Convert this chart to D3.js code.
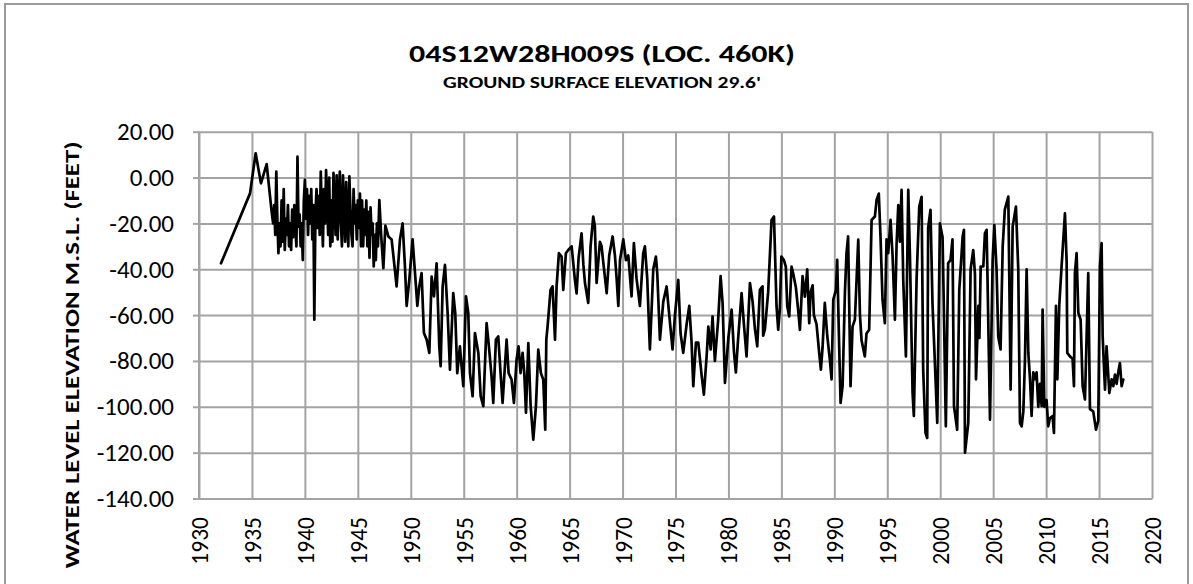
<!DOCTYPE html>
<html><head><meta charset="utf-8">
<script src="https://cdn.jsdelivr.net/npm/d3@7"></script>
<style>
body{margin:0;background:#fff}
svg{display:block}
text{font-family:Calibri,Carlito,Lato,"Open Sans",sans-serif;fill:#000}
</style>
</head><body>
<svg id="c" width="1193" height="584"></svg>
<script>
// ---- data ----
const titleText = "04S12W28H009S (LOC. 460K)";
const subtitleText = "GROUND SURFACE ELEVATION 29.6'";
const yTitleText = "WATER LEVEL ELEVATION M.S.L. (FEET)";
const yTicks = [20, 0, -20, -40, -60, -80, -100, -120, -140];
const xTicks = [1930,1935,1940,1945,1950,1955,1960,1965,1970,1975,1980,1985,1990,1995,2000,2005,2010,2015,2020];

const years = [
1932.08,1934.82,1935.35,1935.85,1936.39,1936.86,
1937.0,1937.1,1937.2,1937.3,1937.4,1937.5,1937.6,1937.7,1937.8,1937.9,
1938.0,1938.1,1938.2,1938.3,1938.4,1938.5,1938.6,1938.7,1938.8,1938.9,
1939.0,1939.1,1939.2,1939.3,1939.4,1939.5,1939.6,1939.7,1939.8,1939.9,
1940.0,1940.1,1940.2,1940.3,1940.4,1940.5,1940.6,1940.7,1940.8,1940.89,
1941.0,1941.1,1941.2,1941.3,1941.4,1941.5,1941.6,1941.7,1941.8,1941.9,
1942.0,1942.1,1942.2,1942.3,1942.4,1942.5,1942.6,1942.7,1942.8,1942.9,
1943.0,1943.1,1943.2,1943.3,1943.4,1943.5,1943.6,1943.7,1943.8,1943.9,
1944.0,1944.1,1944.2,1944.3,1944.4,1944.5,1944.6,1944.7,1944.8,1944.9,
1945.0,1945.1,1945.2,1945.3,1945.4,1945.5,1945.6,1945.7,1945.8,1945.9,
1946.0,1946.1,1946.2,1946.3,1946.4,1946.5,1946.6,1946.7,1946.8,1946.9,
1947.03,1947.2,1947.41,1947.6,1947.88,
1948.19,1948.5,1948.66,1948.98,1949.23,1949.45,1949.61,1949.86,1950.17,1950.4,
1950.62,1950.8,1951.02,1951.24,1951.5,1951.75,1951.97,1952.19,1952.44,1952.69,
1952.82,1953.01,1953.23,1953.48,1953.7,1954.01,1954.2,1954.39,1954.64,1954.96,
1955.21,1955.43,1955.59,1955.84,1956.06,1956.38,1956.6,1956.85,1957.16,1957.35,
1957.63,1957.79,1958.04,1958.26,1958.48,1958.67,1959.05,1959.24,1959.52,1959.74,
1959.99,1960.18,1960.37,1960.56,1960.72,1960.88,1961.1,1961.32,1961.57,1961.82,
1962.04,1962.29,1962.51,1962.7,1962.8,1962.92,1963.2,1963.39,1963.62,1963.77,
1963.99,1964.24,1964.4,1964.65,1964.87,1965.19,1965.5,1965.66,1965.85,1966.13,
1966.3,1966.45,1966.76,1966.98,1967.23,1967.38,1967.55,1967.86,1968.02,1968.18,
1968.5,1968.74,1969.06,1969.28,1969.44,1969.6,1969.76,1970.07,1970.32,1970.54,
1970.85,1971.07,1971.32,1971.64,1971.95,1972.11,1972.33,1972.58,1972.74,1972.9,
1973.15,1973.28,1973.53,1973.85,1974.16,1974.41,1974.72,1974.95,1975.26,1975.48,
1975.73,1976.05,1976.3,1976.52,1976.68,1976.93,1977.15,1977.46,1977.68,1977.94,
1978.1,1978.32,1978.5,1978.72,1979.03,1979.26,1979.45,1979.67,1979.99,1980.3,
1980.52,1980.7,1980.92,1981.24,1981.46,1981.71,1982.03,1982.28,1982.5,1982.72,
1982.97,1983.22,1983.28,1983.45,1983.75,1984.07,1984.3,1984.54,1984.7,1984.86,
1985.0,1985.24,1985.42,1985.55,1985.74,1985.96,1986.12,1986.37,1986.59,1986.75,
1987.0,1987.22,1987.44,1987.63,1987.76,1987.95,1988.07,1988.32,1988.57,1988.73,
1988.89,1989.1,1989.33,1989.58,1989.74,1989.9,1990.15,1990.27,1990.46,1990.59,
1990.78,1991.0,1991.15,1991.3,1991.53,1991.72,1991.94,1992.26,1992.42,1992.57,
1992.88,1993.04,1993.29,1993.52,1993.83,1993.99,1994.2,1994.36,1994.55,1994.77,
1994.93,1995.09,1995.31,1995.5,1995.72,1995.88,1996.04,1996.19,1996.35,1996.51,
1996.76,1996.98,1997.14,1997.39,1997.51,1997.77,1998.02,1998.24,1998.39,1998.61,
1998.77,1998.86,1999.08,1999.27,1999.49,1999.72,1999.97,2000.22,2000.34,2000.53,
2000.75,2000.97,2001.16,2001.3,2001.6,2001.8,2002.12,2002.24,2002.34,2002.65,
2002.87,2003.12,2003.28,2003.38,2003.6,2003.7,2003.82,2004.07,2004.22,2004.38,
2004.45,2004.7,2004.95,2005.11,2005.32,2005.48,2005.7,2005.9,2006.1,2006.43,
2006.65,2006.84,2007.15,2007.37,2007.53,2007.69,2007.85,2008.0,2008.16,2008.32,
2008.48,2008.63,2008.79,2008.95,2009.1,2009.26,2009.42,2009.58,2009.67,2009.83,
2010.04,2010.2,2010.36,2010.61,2010.74,2010.93,2011.06,2011.24,2011.46,2011.78,
2011.94,2012.0,2012.25,2012.5,2012.63,2012.72,2012.88,2013.04,2013.26,2013.45,
2013.67,2013.98,2014.14,2014.45,2014.71,2014.93,2015.08,2015.24,2015.34,2015.56,
2015.71,2015.97,2016.19,2016.35,2016.5,2016.66,2016.81,2016.97,2017.13,2017.29
];

const levels = [
-37.4,-6.9,10.6,-2.5,5.9,-14.9,
-20,-12,-25,2.6,-18,-33,-20,-30,-10,-28,
-5,-31.6,-18,-25,-12,-30,-20,-31.6,-14,-26,
-12,-22,-30,9.1,-21.4,-16,-30,-20,-36,-10,
-1,-18,-5,-25,-8,-20,-5,-27,-12,-62,
-15,-5,-22,-8,-25,2.6,-15,-30,-5,-20,
3.3,-10,-25,0,-30,-10,-28,2,-12,-25,
1,-27,-8,2.6,-20,-30,1,-15,-28,-2,
-18,-30,0.5,-14,-25,-30,-5,-20,-12,-27,
-10,-22,-7,-30,-10,-30,-14,-25,-10,-30,
-15,-35,-13,-25,-20,-38.8,-25,-36,-20,-30,
-9.8,-25,-39.5,-21,-25.7,
-27,-40.3,-47.5,-27,-20,-38.8,-56,-44.6,-27,-41.7,
-56,-47.5,-41.7,-67.8,-70.7,-76.5,-43.2,-51.8,-37.4,-73.6,
-82.3,-47.5,-38.1,-59.1,-83.8,-50.4,-59.1,-85.3,-73.6,-91,
-51.8,-59.1,-85.3,-95.4,-67.8,-76.5,-95.4,-99.7,-63.5,-72.2,
-86.7,-98.3,-70.7,-69.3,-85.3,-98.3,-70.7,-85.3,-88.1,-98.3,
-79.5,-73.6,-85.3,-76.5,-85.3,-102.6,-72.2,-99.7,-114.3,-99.7,
-75.1,-85.3,-88.1,-110,-70.7,-64.9,-49,-47.5,-70.7,-47.5,
-33,-34.5,-49,-33,-31.6,-30,-44.6,-50.5,-35,-24.3,
-38,-46,-54.7,-30,-17,-21,-46,-28,-30,-37,
-50.4,-34,-25.7,-34,-44,-56,-36,-27,-36,-34,
-51.8,-28.6,-44,-56,-33,-30,-44,-75,-58,-40,
-34.5,-42,-70.7,-54,-47.5,-60,-75,-60,-44.6,-68,
-76.5,-64,-56,-72,-91,-72,-72,-86,-94.7,-78,
-65,-75,-60.6,-80,-62,-43,-55,-89.6,-70,-57.6,
-76,-85,-70,-50.4,-64,-78,-46,-54,-66,-73.6,
-49,-47.5,-69,-66,-50,-18.5,-17,-56,-66.4,-57,
-34.5,-36,-39,-56,-60.6,-38.8,-42,-48,-58,-66.4,
-43,-52,-40,-63.5,-50,-47,-60,-64,-76.5,-83.8,
-74,-54.7,-69,-79.5,-88,-53.3,-49,-35.9,-74,-98.3,
-91,-50,-33,-25.7,-91,-65,-62,-27.1,-60,-71,
-78,-68,-66.4,-18.5,-17,-9.8,-7,-25.7,-53.3,-63.5,
-27,-33,-18.5,-34,-62,-29,-12,-28,-5.4,-45,
-78,-5.4,-34,-94,-104,-44,-12.7,-8.4,-83.8,-111.4,
-113.6,-22,-14.1,-55,-80,-107,-20,-26,-56,-108.5,
-37.3,-36,-27,-99.7,-110,-49,-25.7,-22.8,-120,-107,
-40,-31.6,-42,-88,-56,-70,-38.8,-38.8,-24.3,-22.8,
-40,-105.6,-35.9,-20.7,-40,-69.3,-75,-30,-14,-8.3,
-92.5,-21.4,-12.7,-40,-107,-108.5,-102,-80,-40,-76.5,
-88,-104,-85,-88,-85,-100,-90,-99.7,-57.6,-100,
-97,-108.5,-105,-104,-111.4,-56,-88,-56,-38.8,-15.6,
-37,-76.5,-78,-79,-91,-41.7,-33,-59,-62,-91,
-96.8,-41.7,-101,-102,-110,-106,-38.8,-28.6,-69.3,-92.5,
-73.6,-94,-88,-91,-86,-90,-85,-80.9,-91,-88.1
];

// ---- layout ----
const svg = d3.select("#c");
const L = 199, R = 1152, T = 131.7, B = 498.5;
const x = d3.scaleLinear().domain([1930, 2020]).range([L, R]);
const y = d3.scaleLinear().domain([-140, 20]).range([B, T]);
const gridColor = "#a3a3a3";
const tickFont = "Calibri,Carlito,Lato,sans-serif";

// outer chart border
svg.append("rect").attr("x", 5).attr("y", 4).attr("width", 1183).attr("height", 600)
  .attr("fill", "none").attr("stroke", "#9a9a9a").attr("stroke-width", 2);

// horizontal grid + y axis
const gy = svg.append("g").attr("transform", `translate(${L},0)`)
  .call(d3.axisLeft(y).tickValues(yTicks).tickSize(6).tickPadding(19).tickFormat(d => d.toFixed(2)));
gy.select(".domain").attr("stroke", gridColor).attr("stroke-width", 2).attr("d", `M0,${T}V${B}`);
gy.selectAll(".tick line").attr("stroke", gridColor).attr("stroke-width", 2);
gy.selectAll(".tick text").style("font-size", "25px").style("font-family", tickFont);
svg.append("g").attr("transform", `translate(${L},0)`)
  .call(d3.axisLeft(y).tickValues(yTicks).tickSize(-(R - L)).tickFormat(""))
  .call(g => g.select(".domain").remove())
  .selectAll(".tick line").attr("stroke", gridColor).attr("stroke-width", 2);

// vertical grid + x axis
svg.append("g").attr("transform", `translate(0,${B})`)
  .call(d3.axisBottom(x).tickValues(xTicks).tickSize(-(B - T)).tickFormat(""))
  .call(g => g.select(".domain").remove())
  .selectAll(".tick line").attr("stroke", gridColor).attr("stroke-width", 2);
const gx = svg.append("g").attr("transform", `translate(0,${B})`)
  .call(d3.axisBottom(x).tickValues(xTicks).tickSize(0).tickFormat(d3.format("d")));
gx.select(".domain").attr("stroke", gridColor).attr("stroke-width", 2);
gx.selectAll(".tick text")
  .attr("transform", "rotate(-90)")
  .attr("x", -18.5).attr("y", 0).attr("dy", "0.36em")
  .style("text-anchor", "end")
  .style("font-size", "23.5px").style("font-family", tickFont);

// series
const pts = years.map((yr, i) => [yr, levels[i]]);
svg.append("path").datum(pts)
  .attr("fill", "none").attr("stroke", "#000").attr("stroke-width", 2.7)
  .attr("stroke-linejoin", "round").attr("stroke-linecap", "round")
  .attr("d", d3.line().x(d => x(d[0])).y(d => y(d[1])));

// titles
svg.append("text").attr("x", 602).attr("y", 61.7).attr("text-anchor", "middle")
  .attr("textLength", 386).attr("lengthAdjust", "spacingAndGlyphs")
  .style("font-weight", "bold").style("font-size", "25px").text(titleText);
svg.append("text").attr("x", 602).attr("y", 87.7).attr("text-anchor", "middle")
  .attr("textLength", 318).attr("lengthAdjust", "spacingAndGlyphs")
  .style("font-weight", "bold").style("font-size", "16px").text(subtitleText);
svg.append("text").attr("transform", "translate(79,355) rotate(-90)").attr("text-anchor", "middle")
  .attr("textLength", 427).attr("lengthAdjust", "spacingAndGlyphs")
  .style("font-weight", "bold").style("font-size", "20px").text(yTitleText);
</script>
</body></html>
